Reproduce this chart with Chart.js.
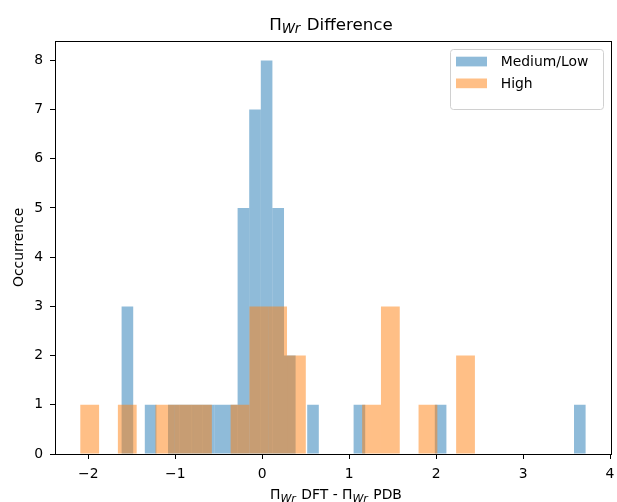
<!DOCTYPE html>
<html>
<head>
<meta charset="utf-8">
<script src="https://cdn.jsdelivr.net/npm/chart.js@4.4.0/dist/chart.umd.min.js"></script>
<style>
  body { margin: 0; background: #fff; }
  #wrap { width: 617px; height: 502px; }
</style>
</head>
<body>
<div id="wrap"><canvas id="hist" width="617" height="502"></canvas></div>
<script>
// histogram bins
var blueLabel = "Medium/Low";
var blueStart = -1.617;   // left edge of first bin
var blueWidth = 0.1334;   // bin width
var blueCounts = [3,0,1,0,1,1,1,1,1,1, 5,7,8,5,2,0,1,0,0,0, 1,0,0,0,0,0,0,1,0,0, 0,0,0,0,0,0,0,0,0,1];

var orangeLabel = "High";
var orangeStart = -2.092;
var orangeWidth = 0.2161;
var orangeCounts = [1,0,1,0,1,1,1,0,1,3, 3,2,0,0,0,1,3,0,1,0, 2];

var xTicks = [-2, -1, 0, 1, 2, 3, 4];
var yTicks = [0, 1, 2, 3, 4, 5, 6, 7, 8];

var FONT = "'DejaVu Sans', sans-serif";

//ビンの中心に点を置く
var toPoints = function(start, width, counts) {
    return counts.map(function(c, i) {
        return { x: start + (i + 0.5) * width, y: c };
    });
};

//添字つきテキスト (Π_Wr)
var subFont = function(p, size) {
    return (p.sub ? "italic " + (size * 0.8) : size) + "px " + FONT;
};
var drawMath = function(ctx, parts, cx, baseline, size) {
    var widths = parts.map(function(p) {
        ctx.font = subFont(p, size);
        return ctx.measureText(p.t).width + (p.gap || 0);
    });
    var total = widths.reduce(function(a, b) { return a + b; }, 0);
    var x = cx - total / 2;
    ctx.save();
    ctx.fillStyle = "#000";
    ctx.textAlign = "left";
    ctx.textBaseline = "alphabetic";
    parts.forEach(function(p, i) {
        ctx.font = subFont(p, size);
        ctx.fillText(p.t, x, baseline + (p.sub ? size * 0.2 : 0));
        x += widths[i];
    });
    ctx.restore();
};

var decor = {
    id: "decor",
    afterDatasetsDraw: function(chart) {
        var ctx = chart.ctx, a = chart.chartArea;
        ctx.save();
        ctx.strokeStyle = "#000";
        ctx.lineWidth = 1;
        ctx.strokeRect(Math.round(a.left) + 0.5, Math.round(a.top) + 0.5,
                       Math.round(a.right - a.left), Math.round(a.bottom - a.top));
        ctx.restore();
    },
    afterDraw: function(chart) {
        var ctx = chart.ctx;
        //タイトル
        drawMath(ctx, [{t: "\u03A0"}, {t: "Wr", sub: true, gap: 1}, {t: " Difference"}], 331, 30, 16.7);
        //x軸ラベル
        drawMath(ctx, [{t: "\u03A0"}, {t: "Wr", sub: true, gap: 1}, {t: " DFT - \u03A0"},
                       {t: "Wr", sub: true, gap: 1}, {t: " PDB"}], 336, 499, 13.9);

        //凡例
        var lx = 450.5, ly = 49.5, lw = 153, lh = 60;
        ctx.save();
        ctx.beginPath();
        ctx.roundRect(lx, ly, lw, lh, 3);
        ctx.fillStyle = "rgba(255,255,255,0.8)";
        ctx.fill();
        ctx.strokeStyle = "#d0d0d0";
        ctx.lineWidth = 1;
        ctx.stroke();
        chart.data.datasets.forEach(function(ds, i) {
            var py = 56.7 + i * 21.8;
            ctx.fillStyle = ds.backgroundColor;
            ctx.fillRect(456, py, 31, 9.7);
            ctx.fillStyle = "#000";
            ctx.font = "13.9px " + FONT;
            ctx.textAlign = "left";
            ctx.textBaseline = "middle";
            ctx.fillText(ds.label, 500.7, py + 5.5);
        });
        ctx.restore();
    }
};

var noPad = function(s) { s.paddingLeft = 0; s.paddingRight = 0; };

var ctx = document.getElementById("hist").getContext("2d");
var chart = new Chart(ctx, {
    type: "bar",
    data: {
        datasets: [{
            label: blueLabel,
            data: toPoints(blueStart, blueWidth, blueCounts),
            backgroundColor: "rgba(31,119,180,0.5)",
            borderWidth: 0,
            inflateAmount: 0,
            grouped: false,
            barPercentage: 1,
            categoryPercentage: 1,
            xAxisID: "x",
            order: 2
        }, {
            label: orangeLabel,
            data: toPoints(orangeStart, orangeWidth, orangeCounts),
            backgroundColor: "rgba(255,127,14,0.5)",
            borderWidth: 0,
            inflateAmount: 0,
            grouped: false,
            barPercentage: 1,
            categoryPercentage: 1,
            xAxisID: "x2",
            order: 1
        }]
    },
    options: {
        responsive: false,
        animation: false,
        layout: { padding: { left: 0, right: 6, top: 40.7, bottom: 0 } },
        plugins: {
            legend: { display: false },
            tooltip: { enabled: false },
            title: { display: false }
        },
        scales: {
            x: {
                type: "linear",
                min: -2.383,
                max: 4.011,
                offset: false,
                afterFit: function(s) { s.height = 48; noPad(s); },
                afterBuildTicks: function(s) { s.ticks = xTicks.map(function(v) { return { value: v }; }); },
                ticks: {
                    color: "#000",
                    padding: 7,
                    font: { family: FONT, size: 13.9 },
                    callback: function(v) { return String(v).replace("-", "\u2212"); }
                },
                grid: { offset: false, drawOnChartArea: false, drawTicks: true, tickLength: 5, tickColor: "#000", tickWidth: 1 },
                border: { display: false }
            },
            x2: {
                type: "linear",
                display: false,
                min: -2.383,
                max: 4.011,
                offset: false,
                afterFit: noPad,
                afterBuildTicks: function(s) { s.ticks = xTicks.map(function(v) { return { value: v }; }); }
            },
            y: {
                min: 0,
                max: 8.4,
                afterFit: function(s) { s.width = 55; },
                afterBuildTicks: function(s) { s.ticks = yTicks.map(function(v) { return { value: v }; }); },
                ticks: { color: "#000", padding: 7, font: { family: FONT, size: 13.9 } },
                grid: { drawOnChartArea: false, drawTicks: true, tickLength: 5, tickColor: "#000", tickWidth: 1 },
                border: { display: false },
                title: {
                    display: true,
                    text: "Occurrence",
                    color: "#000",
                    font: { family: FONT, size: 13.9 },
                    padding: { top: 10.6, bottom: 0 }
                }
            }
        }
    },
    plugins: [decor]
});
</script>
</body>
</html>
